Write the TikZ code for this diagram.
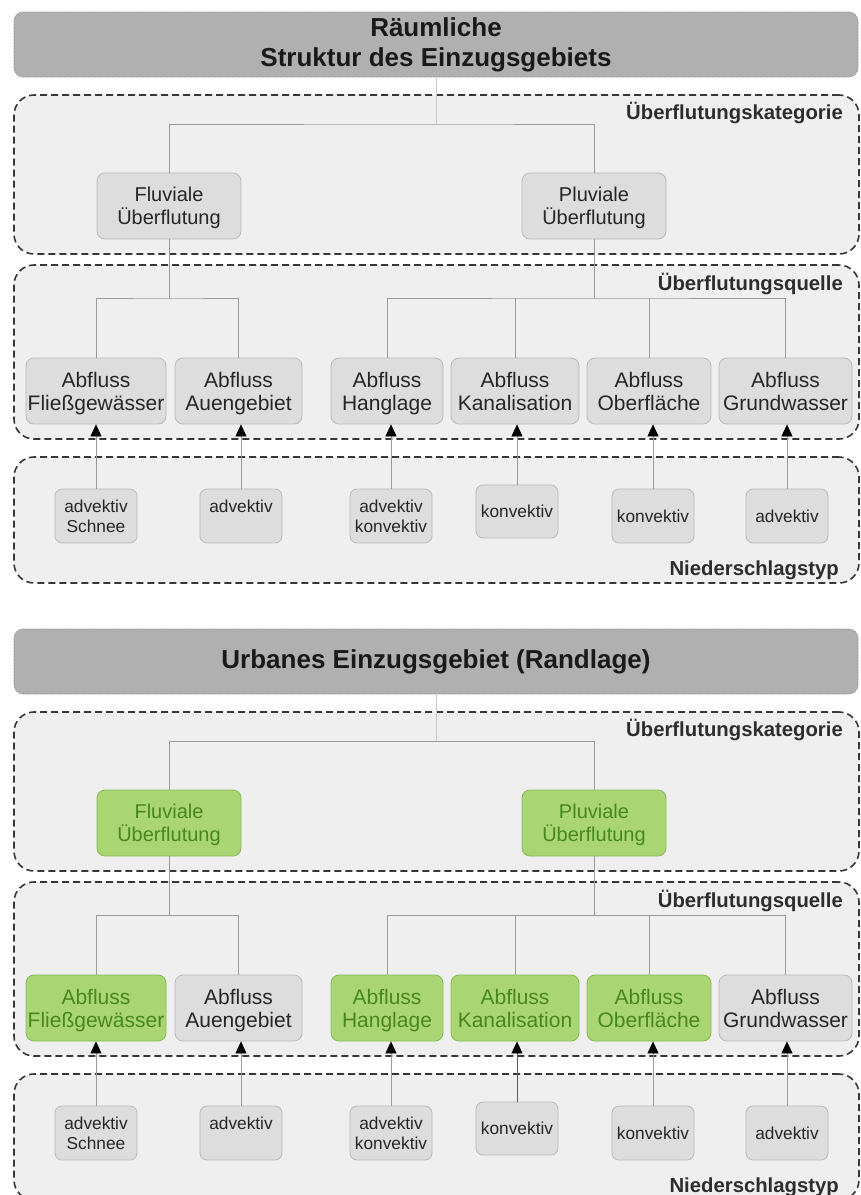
\documentclass[tikz,border=0pt]{standalone}
\usepackage{fontspec}
\setmainfont{Liberation Sans}
\usetikzlibrary{arrows.meta}

\definecolor{headgray}{RGB}{176,176,176}
\definecolor{headedge}{RGB}{150,150,150}
\definecolor{groupfill}{RGB}{239,239,239}
\definecolor{groupedge}{RGB}{55,55,55}
\definecolor{boxfill}{RGB}{221,221,221}
\definecolor{boxedge}{RGB}{185,185,185}
\definecolor{greenfill}{RGB}{169,214,114}
\definecolor{greenedge}{RGB}{135,185,85}
\definecolor{greentext}{RGB}{72,135,30}
\definecolor{connline}{RGB}{155,155,155}
\definecolor{connlight}{RGB}{200,200,200}
\definecolor{conndark}{RGB}{90,90,90}
\definecolor{labeltext}{RGB}{45,45,45}

% centred stack of lines; the first line gets the box style's head room
\def\headroom{0pt}
\newcommand\lines[1]{\begin{tabular}{@{}c@{}}\rule{0pt}{\headroom}#1\end{tabular}}

\tikzset{
  panelhead/.style={rectangle, rounded corners=9pt, fill=headgray, draw=headedge,
    dash pattern=on 2pt off 1pt, line width=0.6pt, minimum width=844pt,
    minimum height=65pt, inner sep=0pt, align=center, text=black!90,
    font=\bfseries\fontsize{26}{30}\selectfont},
  groupbox/.style={rectangle, rounded corners=20pt, fill=groupfill, draw=groupedge,
    dash pattern=on 7pt off 4pt, line width=1.6pt, inner sep=0pt, minimum width=845pt},
  grouplabel/.style={anchor=base east, inner sep=0pt, text=labeltext,
    font=\bfseries\fontsize{20.3}{22}\selectfont},
  roundbox/.style={rectangle, draw=boxedge, fill=boxfill, line width=0.8pt,
    inner sep=0pt, text=black!85},
  catbox/.style={roundbox, rounded corners=8pt, minimum width=144pt, minimum height=66pt,
    font=\fontsize{20}{23}\selectfont, execute at begin node={\def\headroom{21pt}}},
  srcbox/.style={roundbox, rounded corners=8pt, minimum width=144pt, minimum height=66pt,
    font=\fontsize{21}{23.5}\selectfont, execute at begin node={\def\headroom{23.5pt}}},
  precbox/.style={roundbox, rounded corners=7pt, minimum width=82pt, minimum height=54pt,
    font=\fontsize{17.3}{20}\selectfont, execute at begin node={\def\headroom{18pt}}},
  active/.style={fill=greenfill, draw=greenedge, text=greentext},
  conn/.style={draw=connline, line width=0.8pt},
  connhead/.style={draw=connlight, line width=0.8pt},
  feed/.style={conn, -{Triangle[width=11pt,length=12pt,color=black]}},
}

\begin{document}
\begin{tikzpicture}[x=1pt,y=-1pt]
\clip (0,0) rectangle (861,1195);
\fill[white] (0,0) rectangle (861,1195);

% ---------------- Spatial structure of the catchment ----------------
\node[groupbox, minimum height=159pt] (a-gcat) at (436.5,174.5) {};
\node[groupbox, minimum height=174pt] (a-gsrc) at (436.5,352) {};
\node[groupbox, minimum height=126pt] (a-gprec) at (436.5,520) {};
\node[grouplabel] (a-lcat) at (843,119) {Überflutungskategorie};
\node[grouplabel] (a-lsrc) at (843,290) {Überflutungsquelle};
\node[grouplabel] (a-lprec) at (839,575) {Niederschlagstyp};

\node[panelhead] (a-title) at (436,44.5) {Räumliche\\Struktur des Einzugsgebiets};

\node[catbox] (a-fluv) at (169,206) {\lines{Fluviale\\Überflutung}};
\node[catbox] (a-pluv) at (594,206) {\lines{Pluviale\\Überflutung}};

\node[srcbox, minimum width=140pt] (a-q1) at (96,391) {\lines{Abfluss\\Fließgewässer}};
\node[srcbox, minimum width=127pt] (a-q2) at (238.5,391) {\lines{Abfluss\\Auengebiet}};
\node[srcbox, minimum width=112pt] (a-q3) at (387,391) {\lines{Abfluss\\Hanglage}};
\node[srcbox, minimum width=128pt] (a-q4) at (515,391) {\lines{Abfluss\\Kanalisation}};
\node[srcbox, minimum width=124pt] (a-q5) at (649,391) {\lines{Abfluss\\Oberfläche}};
\node[srcbox, minimum width=133pt] (a-q6) at (785.5,391) {\lines{Abfluss\\Grundwasser}};

\node[precbox] (a-p1) at (96,516) {\lines{advektiv\\Schnee}};
\node[precbox] (a-p2) at (241,516) {\lines{advektiv\\\mbox{}}};
\node[precbox] (a-p3) at (391,516) {\lines{advektiv\\konvektiv}};
\node[precbox, minimum height=53pt] (a-p4) at (517,511.5) {\lines{konvektiv}};
\node[precbox] (a-p5) at (653,516) {\lines{konvektiv}};
\node[precbox] (a-p6) at (787,516) {\lines{advektiv}};

\coordinate (a-j0) at (436,124);
\coordinate (a-j1) at (169,298);
\coordinate (a-j2) at (594,298);
\draw[connhead] (a-title) -- (a-j0);
\draw[conn] (a-fluv) |- (a-j0) -| (a-pluv);
\draw[conn] (a-fluv) -- (a-j1);
\draw[conn] (a-q1) |- (a-j1) -| (a-q2);
\draw[conn] (a-pluv) -- (a-j2);
\draw[conn] (a-q3) |- (a-j2) -| (a-q6);
\draw[conn] (a-q4) -- (a-q4 |- a-j2);
\draw[conn] (a-q5) -- (a-q5 |- a-j2);
\foreach \i in {1,...,6}
  \draw[feed] (a-p\i) -- (a-p\i |- a-q\i.south);

% ---------------- Urban catchment (fringe location) ----------------
\begin{scope}[yshift=-617pt]
\node[groupbox, minimum height=159pt] (b-gcat) at (436.5,174.5) {};
\node[groupbox, minimum height=174pt] (b-gsrc) at (436.5,352) {};
\node[groupbox, minimum height=126pt] (b-gprec) at (436.5,520) {};
\node[grouplabel] (b-lcat) at (843,119) {Überflutungskategorie};
\node[grouplabel] (b-lsrc) at (843,290) {Überflutungsquelle};
\node[grouplabel] (b-lprec) at (839,575) {Niederschlagstyp};

\node[panelhead] (b-title) at (436,44.5) {Urbanes Einzugsgebiet (Randlage)};

\node[catbox, active] (b-fluv) at (169,206) {\lines{Fluviale\\Überflutung}};
\node[catbox, active] (b-pluv) at (594,206) {\lines{Pluviale\\Überflutung}};

\node[srcbox, active, minimum width=140pt] (b-q1) at (96,391) {\lines{Abfluss\\Fließgewässer}};
\node[srcbox, minimum width=127pt] (b-q2) at (238.5,391) {\lines{Abfluss\\Auengebiet}};
\node[srcbox, active, minimum width=112pt] (b-q3) at (387,391) {\lines{Abfluss\\Hanglage}};
\node[srcbox, active, minimum width=128pt] (b-q4) at (515,391) {\lines{Abfluss\\Kanalisation}};
\node[srcbox, active, minimum width=124pt] (b-q5) at (649,391) {\lines{Abfluss\\Oberfläche}};
\node[srcbox, minimum width=133pt] (b-q6) at (785.5,391) {\lines{Abfluss\\Grundwasser}};

\node[precbox] (b-p1) at (96,516) {\lines{advektiv\\Schnee}};
\node[precbox] (b-p2) at (241,516) {\lines{advektiv\\\mbox{}}};
\node[precbox] (b-p3) at (391,516) {\lines{advektiv\\konvektiv}};
\node[precbox, minimum height=53pt] (b-p4) at (517,511.5) {\lines{konvektiv}};
\node[precbox] (b-p5) at (653,516) {\lines{konvektiv}};
\node[precbox] (b-p6) at (787,516) {\lines{advektiv}};

\coordinate (b-j0) at (436,124);
\coordinate (b-j1) at (169,298);
\coordinate (b-j2) at (594,298);
\draw[connhead] (b-title) -- (b-j0);
\draw[conn] (b-fluv) |- (b-j0) -| (b-pluv);
\draw[conn] (b-fluv) -- (b-j1);
\draw[conn] (b-q1) |- (b-j1) -| (b-q2);
\draw[conn] (b-pluv) -- (b-j2);
\draw[conn] (b-q3) |- (b-j2) -| (b-q6);
\draw[conn] (b-q4) -- (b-q4 |- b-j2);
\draw[conn] (b-q5) -- (b-q5 |- b-j2);
\foreach \i in {1,2,3,5,6}
  \draw[feed] (b-p\i) -- (b-p\i |- b-q\i.south);
\draw[feed, draw=conndark] (b-p4) -- (b-p4 |- b-q4.south);
\end{scope}
\end{tikzpicture}
\end{document}
